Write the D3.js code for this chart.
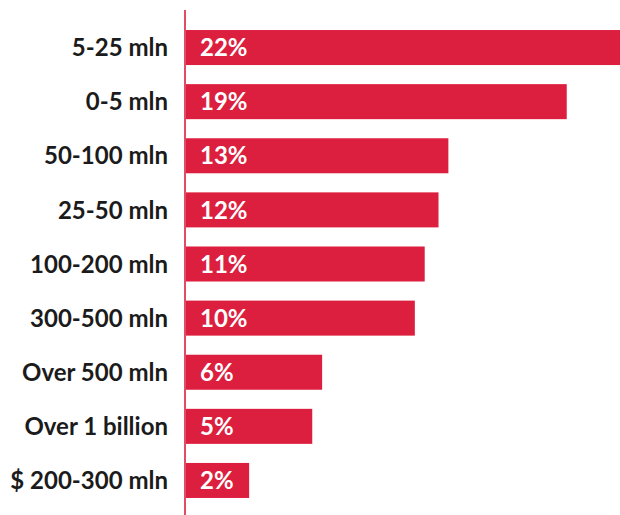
<!DOCTYPE html>
<meta charset="utf-8">
<style>
    body { margin: 0; background: #fff; }
    .cat { font: bold 24px Lato, sans-serif; fill: #1b1b1b; }
    .val { font: bold 24px Lato, sans-serif; fill: #fff; }
</style>
<body>
<script src="https://d3js.org/d3.v7.min.js"></script>
<script>
    // categories, top to bottom
    var categories = ["5-25 mln", "0-5 mln", "50-100 mln", "25-50 mln", "100-200 mln",
                      "300-500 mln", "Over 500 mln", "Over 1 billion", "$ 200-300 mln"];
    // share (%)
    var shares = [22, 19.3, 13.3, 12.8, 12.1, 11.6, 6.9, 6.4, 3.2];
    // labels printed on the bars
    var shareLabels = ["22%", "19%", "13%", "12%", "11%", "10%", "6%", "5%", "2%"];

    var width = 620, height = 515;
    var red = "#dc1f3e";

    var svg = d3.select("body").append("svg")
        .attr("width", width)
        .attr("height", height);

    // x from the axis line out to the right edge
    var x = d3.scaleLinear().domain([0, 22]).range([186, 620]);
    var y = d3.scaleBand()
        .domain(categories)
        .range([20.5, 507.5])
        .paddingInner(0.353)
        .paddingOuter(0.176);

    // bars
    svg.selectAll(".bar")
        .data(categories)
        .enter().append("rect")
        .attr("class", "bar")
        .attr("x", x(0))
        .attr("y", function(d) { return y(d); })
        .attr("width", function(d, i) { return x(shares[i]) - x(0); })
        .attr("height", y.bandwidth())
        .attr("fill", red);

    // value labels inside bars
    svg.selectAll(".val")
        .data(categories)
        .enter().append("text")
        .attr("class", "val")
        .attr("x", x(0) + 14)
        .attr("y", function(d) { return y(d) + y.bandwidth() / 2; })
        .attr("dy", "0.36em")
        .text(function(d, i) { return shareLabels[i]; });

    // category axis (left), text only
    var yAxis = svg.append("g")
        .attr("transform", "translate(185,0)")
        .call(d3.axisLeft(y).tickSize(0).tickPadding(17));
    yAxis.select(".domain").remove();
    yAxis.selectAll("text")
        .attr("class", "cat")
        .attr("dy", "0.36em");

    // vertical baseline
    svg.append("line")
        .attr("x1", 185).attr("x2", 185)
        .attr("y1", 10).attr("y2", height)
        .attr("stroke", red)
        .attr("stroke-width", 1.6);
</script>
</body>
